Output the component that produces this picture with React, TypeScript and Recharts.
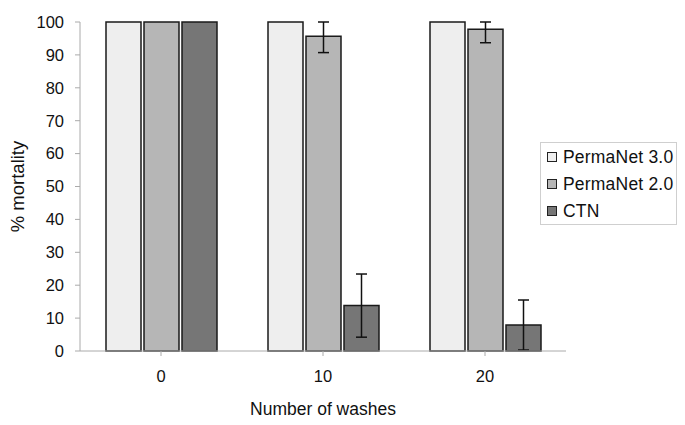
import React from 'react';
import { BarChart, Bar, XAxis, YAxis, ErrorBar, Label } from 'recharts';

const categories = ['0', '10', '20'];
const permaNet30 = [100, 100, 100];
const permaNet20 = [100, 95.7, 97.8];
const ctn = [100, 13.8, 7.9];
const permaNet20Err: (number[] | null)[] = [null, [5.0, 4.3], [4.1, 2.2]];
const ctnErr: (number[] | null)[] = [null, [9.6, 9.6], [7.6, 7.6]];
const yTicks = [0, 10, 20, 30, 40, 50, 60, 70, 80, 90, 100];

const seriesNames = ['PermaNet 3.0', 'PermaNet 2.0', 'CTN'];
const seriesColors = ['#eeeeee', '#b6b6b6', '#767676'];

const data = categories.map((c, i) => ({
  washes: c,
  pn3: permaNet30[i],
  pn2: permaNet20[i],
  ctn: ctn[i],
  pn2Err: permaNet20Err[i],
  ctnErr: ctnErr[i],
}));

const FONT = '"Liberation Sans", Arial, Helvetica, sans-serif';

const LegendBox = () => (
  <div
    style={{
      position: 'absolute',
      left: 540,
      top: 142,
      width: 137,
      height: 83,
      border: '1px solid #cfcfcf',
      background: '#fff',
      boxSizing: 'border-box',
      fontFamily: FONT,
      fontSize: 17.5,
      color: '#111',
    }}
  >
    {seriesNames.map((n, i) => (
      <div
        key={n}
        style={{
          position: 'absolute',
          left: 6,
          top: 4 + i * 27,
          height: 20,
          display: 'flex',
          alignItems: 'center',
          whiteSpace: 'nowrap',
        }}
      >
        <span
          style={{
            display: 'inline-block',
            width: 8,
            height: 8,
            background: seriesColors[i],
            border: '1px solid #222',
            marginRight: 6,
          }}
        />
        <span style={{ letterSpacing: 0.2 }}>{n}</span>
      </div>
    ))}
  </div>
);

export default function App() {
  return (
    <div style={{ position: 'relative', width: 685, height: 425, margin: -8, background: '#fff' }}>
      <BarChart
        width={685}
        height={425}
        data={data}
        margin={{ top: 22, right: 119, bottom: 0, left: 0 }}
        barSize={35}
        barGap={3}
      >
        <XAxis
          dataKey="washes"
          height={74}
          axisLine={{ stroke: '#aaaaaa' }}
          tickLine={{ stroke: '#aaaaaa' }}
          tickSize={5}
          tickMargin={14}
          tick={{ fill: '#111', fontSize: 16.5, fontFamily: FONT }}
          interval={0}
        >
          <Label
            value="Number of washes"
            position="insideBottom"
            offset={10}
            style={{ fill: '#111', fontSize: 17.5, fontFamily: FONT }}
          />
        </XAxis>
        <YAxis
          width={80}
          domain={[0, 100]}
          ticks={yTicks}
          interval={0}
          axisLine={{ stroke: '#aaaaaa' }}
          tickLine={{ stroke: '#aaaaaa' }}
          tickSize={5}
          tickMargin={11}
          tick={{ fill: '#111', fontSize: 16.5, fontFamily: FONT }}
        >
          <Label
            content={({ viewBox }: any) => {
              const cy = viewBox.y + viewBox.height / 2;
              const cx = 24;
              return (
                <text
                  x={cx}
                  y={cy}
                  transform={`rotate(-90 ${cx} ${cy})`}
                  textAnchor="middle"
                  fill="#111"
                  fontSize={18.5}
                  fontFamily={FONT}
                >
                  % mortality
                </text>
              );
            }}
          />
        </YAxis>
        <Bar dataKey="pn3" name={seriesNames[0]} fill={seriesColors[0]} stroke="#1a1a1a" strokeWidth={1.5} isAnimationActive={false} />
        <Bar dataKey="pn2" name={seriesNames[1]} fill={seriesColors[1]} stroke="#1a1a1a" strokeWidth={1.5} isAnimationActive={false}>
          <ErrorBar dataKey="pn2Err" width={5.5} stroke="#111" strokeWidth={1.5} isAnimationActive={false} />
        </Bar>
        <Bar dataKey="ctn" name={seriesNames[2]} fill={seriesColors[2]} stroke="#1a1a1a" strokeWidth={1.5} isAnimationActive={false}>
          <ErrorBar dataKey="ctnErr" width={5.5} stroke="#111" strokeWidth={1.5} isAnimationActive={false} />
        </Bar>
      </BarChart>
      <LegendBox />
    </div>
  );
}
